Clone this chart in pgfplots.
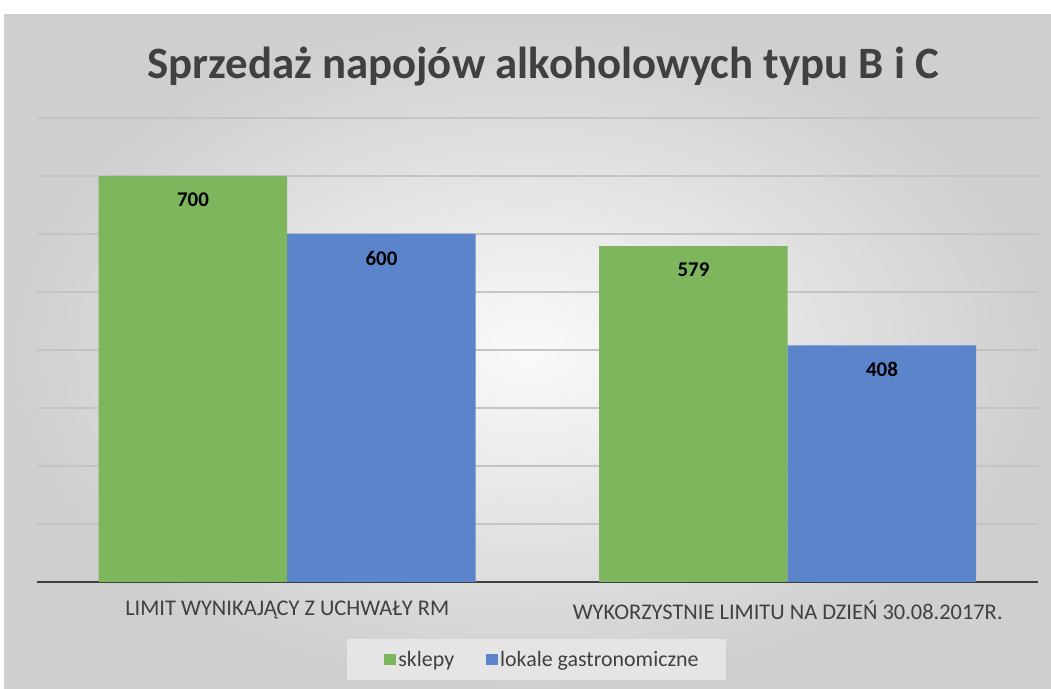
\documentclass[border=0pt]{standalone}
\usepackage{fontspec}
\setmainfont{Carlito}
\usepackage{pgfplots}
\pgfplotsset{compat=1.18}

\definecolor{barGreen}{HTML}{7DB65C}
\definecolor{barBlue}{HTML}{5B84CB}
\definecolor{txtGray}{HTML}{404040}
\definecolor{gridGray}{HTML}{C4C4C4}

\begin{document}
\begin{tikzpicture}
% canvas 1051 x 689 bp
\fill[white] (0,0) rectangle (1051bp,689bp);
\shade[inner color=white!96!gray, outer color=gray!38] (4bp,0) rectangle (1051bp,674bp);
\fill[white!80!gray] (347bp,9bp) rectangle (726bp,50bp);

\node[font=\fontsize{45}{50}\selectfont\bfseries, text=txtGray] at (543bp,622bp)
  {Sprzedaż napojów alkoholowych typu B i C};

\begin{axis}[
    at={(37bp,107bp)}, anchor=south west,
    scale only axis,
    width=1001bp, height=464bp,
    ybar=0pt,
    bar width=188.5bp,
    xmin=-0.5, xmax=1.5,
    ymin=0, ymax=800,
    xtick=data,
    xticklabels={LIMIT WYNIKAJĄCY Z UCHWAŁY RM, WYKORZYSTNIE LIMITU NA DZIEŃ 30.08.2017R.},
    ytick={0,100,...,800},
    yticklabels={},
    major tick length=0,
    ymajorgrids,
    grid style={draw=gridGray, line width=1.5bp},
    axis x line=bottom,
    axis y line=left,
    x axis line style={-, draw=txtGray, line width=2.5bp},
    y axis line style={draw=none},
    /pgf/number format/assume math mode=true,
    xticklabel style={font=\fontsize{22.5}{24}\selectfont, text=txtGray, yshift=-15bp},
    nodes near coords,
    every node near coord/.append style={font=\fontsize{21}{23}\selectfont\bfseries, text=black, anchor=center, yshift=-24bp},
    legend columns=2,
    legend style={at={(0.505,-0.167)}, anchor=center, draw=none, fill=none,
        font=\fontsize{22}{24}\selectfont, text=txtGray,
        nodes={inner sep=2bp},
        /tikz/every even column/.append style={column sep=30bp}},
    legend image code/.code={\fill[#1] (0bp,-5.5bp) rectangle (12bp,5.5bp);},
]
\addplot[fill=barGreen, draw=none] coordinates {(0,700) (1,579)};
\addplot[fill=barBlue, draw=none] coordinates {(0,600) (1,408)};
\legend{sklepy, lokale gastronomiczne}
\end{axis}
\end{tikzpicture}
\end{document}
